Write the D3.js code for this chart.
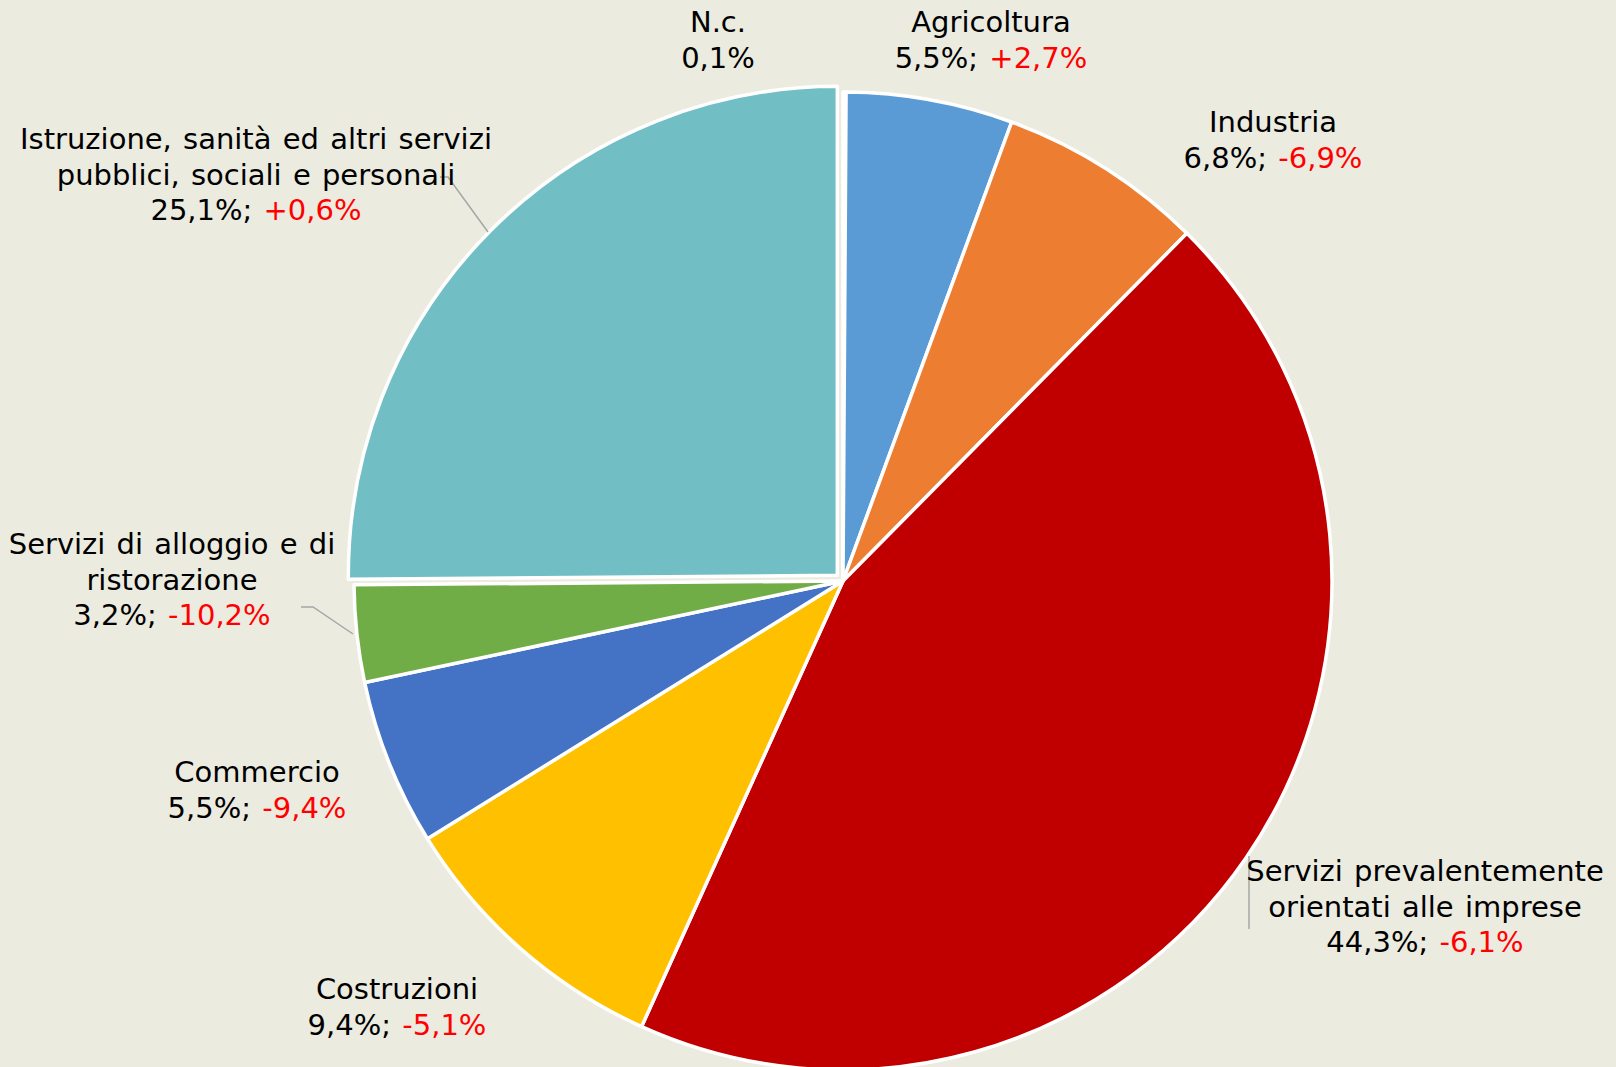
<!DOCTYPE html>
<html>
<head>
<meta charset="utf-8">
<script src="https://cdnjs.cloudflare.com/ajax/libs/d3/7.8.5/d3.min.js"></script>
<style>
  html, body { margin: 0; padding: 0; background: #EBEBE0; }
  svg { display: block; }
</style>
</head>
<body>
<script>
// settori (ordine orario a partire dalle ore 12)
var categories = ["N.c.", "Agricoltura", "Industria", "Servizi prevalentemente orientati alle imprese",
                  "Costruzioni", "Commercio", "Servizi di alloggio e di ristorazione",
                  "Istruzione, sanità ed altri servizi pubblici, sociali e personali"];
var shares  = [0.1, 5.5, 6.8, 44.3, 9.4, 5.5, 3.2, 25.1];
var changes = [null, "+2,7%", "-6,9%", "-6,1%", "-5,1%", "-9,4%", "-10,2%", "+0,6%"];
var colors  = ["#FF0000", "#5B9BD5", "#ED7D31", "#C00000", "#FFC000", "#4472C4", "#70AD47", "#72BEC5"];

// righe delle etichette come nel grafico originale
var nameLines = [
  ["N.c."],
  ["Agricoltura"],
  ["Industria"],
  ["Servizi prevalentemente", "orientati alle imprese"],
  ["Costruzioni"],
  ["Commercio"],
  ["Servizi di alloggio e di", "ristorazione"],
  ["Istruzione, sanità ed altri servizi", "pubblici, sociali e personali"]
];

var w = 1616, h = 1067;
var cx = 843, cy = 581, r = 489;

// posizione del centro della prima riga di ogni etichetta
var labelPos = [[718, 22], [991, 22], [1273, 122], [1425, 871], [397, 989], [257, 772], [172, 544], [256, 139]];
var leaders = {
  3: [[1249, 856], [1249, 929]],
  6: [[301, 607], [313, 607], [353, 634]],
  7: [[440, 177], [448, 177], [488, 232]]
};

var fmt = function(v) { return String(v).replace(".", ",") + "%"; };

var svg = d3.select("body").append("svg")
    .attr("width", w)
    .attr("height", h);

svg.append("rect").attr("width", w).attr("height", h).attr("fill", "#EBEBE0");

var pie = d3.pie().sort(null).value(function(d) { return d; });
var arc = d3.arc().innerRadius(0).outerRadius(r);
var arcs = pie(shares);

var g = svg.append("g").attr("transform", "translate(" + cx + "," + cy + ")");

g.selectAll("path")
  .data(arcs)
  .enter()
  .append("path")
  .attr("d", arc)
  .attr("fill", function(d, i) { return colors[i]; })
  .attr("stroke", "#fff")
  .attr("stroke-width", 3.5)
  .attr("stroke-linejoin", "round")
  .attr("transform", function(d, i) {
      if (i !== 7) return null;   // fetta "Istruzione" staccata
      var a = (d.startAngle + d.endAngle) / 2, off = 8;
      return "translate(" + (Math.sin(a) * off) + "," + (-Math.cos(a) * off) + ")";
  });

// linee guida
var line = d3.line();
Object.keys(leaders).forEach(function(k) {
  svg.append("path")
    .attr("d", line(leaders[k]))
    .attr("fill", "none")
    .attr("stroke", "#A6A6A6")
    .attr("stroke-width", 1.5);
});

var fs = 29, lh = 35.5;
var labels = svg.selectAll("text.lab")
  .data(categories)
  .enter()
  .append("text")
  .attr("class", "lab")
  .attr("text-anchor", "middle")
  .attr("font-family", "'DejaVu Sans', Verdana, sans-serif")
  .attr("font-size", fs)
  .attr("word-spacing", 2)
  .attr("fill", "#000");

labels.each(function(d, i) {
  var t = d3.select(this);
  var x = labelPos[i][0], y = labelPos[i][1];
  nameLines[i].forEach(function(s, j) {
    t.append("tspan").attr("x", x).attr("y", y + j * lh).attr("dy", "0.35em").text(s);
  });
  t.append("tspan").attr("x", x).attr("y", y + nameLines[i].length * lh).attr("dy", "0.35em")
    .text(fmt(shares[i]) + (changes[i] ? "; " : ""));
  if (changes[i]) {
    t.append("tspan").attr("fill", "#FF0000").text(changes[i]);
  }
});
</script>
</body>
</html>
